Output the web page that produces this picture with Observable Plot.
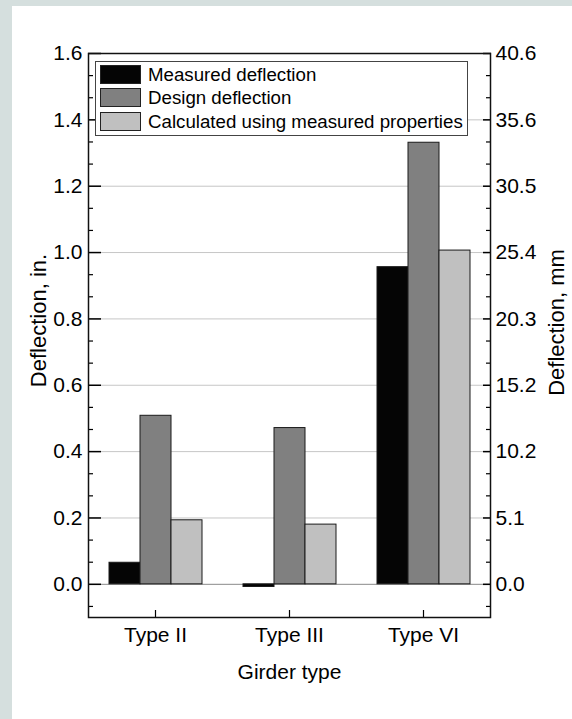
<!DOCTYPE html>
<html><head><meta charset="utf-8">
<script src="https://cdn.jsdelivr.net/npm/d3@7"></script>
<script src="https://cdn.jsdelivr.net/npm/@observablehq/plot@0.6"></script>
<style>
body{margin:0;background:#d5dfde;width:572px;height:719px;overflow:hidden;font-family:"Liberation Sans",Arial,sans-serif;}
#panel{position:absolute;left:12px;top:6px;width:560px;height:713px;background:#fff;}
#legend{position:absolute;left:83px;top:55px;width:371px;height:73px;border:1px solid #444;background:#fff;}
.row{position:absolute;left:4px;height:19px;display:flex;align-items:center;}
.sw{width:39px;height:17px;border:1px solid #222;}
.lab{margin-left:7px;font-size:18.7px;color:#000;white-space:nowrap;}
</style></head>
<body>
<div id="panel"><div id="chart"></div><div id="legend"></div></div>
<script>
const types = ["Type II", "Type III", "Type VI"];
const series = ["Measured deflection", "Design deflection", "Calculated using measured properties"];
const measured = [0.065, -0.008, 0.956];
const design = [0.508, 0.471, 1.331];
const calculated = [0.193, 0.180, 1.006];
const colors = ["#050505", "#808080", "#c0c0c0"];
const inTicks = [0, 0.2, 0.4, 0.6, 0.8, 1.0, 1.2, 1.4, 1.6];
const inLabels = ["0.0", "0.2", "0.4", "0.6", "0.8", "1.0", "1.2", "1.4", "1.6"];
const mmLabels = ["0.0", "5.1", "10.2", "15.2", "20.3", "25.4", "30.5", "35.6", "40.6"];
const gridTicks = [0.2, 0.4, 0.6, 0.8, 1.0, 1.2, 1.4];

const valueSets = [measured, design, calculated];
const data = types.flatMap((t, i) => valueSets.map((arr, j) => ({type: t, series: series[j], value: arr[i]})));
const minorTicks = d3.range(-1, 25).filter(k => k % 3 !== 0).map(k => k / 15);

const font = "'Liberation Sans', Arial, sans-serif";
const chart = Plot.plot({
  width: 560, height: 713,
  marginLeft: 76, marginRight: 82, marginTop: 47, marginBottom: 102,
  style: {fontFamily: font, fontSize: "21px", color: "#000", background: "transparent"},
  fx: {domain: types, padding: 0, label: null},
  x: {domain: series, paddingInner: 0, paddingOuter: 0.64, axis: null},
  y: {domain: [-0.1, 1.6], axis: null},
  color: {domain: series, range: colors},
  marks: [
    Plot.gridY(gridTicks, {stroke: "#c6c6c6", strokeOpacity: 1}),
    Plot.ruleY([0], {stroke: "#8a8a8a"}),
    Plot.barY(data, {fx: "type", x: "series", y: "value", fill: "series", stroke: "#1a1a1a", strokeWidth: 1}),
    Plot.axisY({anchor: "left", ticks: inTicks, tickSize: -13, tickPadding: 19, strokeWidth: 1.5,
      tickFormat: d => inLabels[inTicks.indexOf(d)], label: null}),
    Plot.axisY({anchor: "left", ticks: minorTicks, tickSize: -5, tickFormat: () => "", strokeWidth: 1.2, label: null}),
    Plot.axisY({anchor: "right", ticks: inTicks, tickSize: -8, tickPadding: 13, strokeWidth: 1.5,
      tickFormat: d => mmLabels[inTicks.indexOf(d)], label: null}),
    Plot.axisY({anchor: "right", ticks: minorTicks, tickSize: -5, tickFormat: () => "", strokeWidth: 1.2, label: null}),
    Plot.axisFx({anchor: "bottom", tickSize: -7, tickPadding: 17, strokeWidth: 1.2, label: null}),
    Plot.frame({facet: "super", stroke: "#111", strokeWidth: 1.5}),
    Plot.text(["Deflection, in."], {text: d => d, frameAnchor: "left", textAnchor: "middle", rotate: -90, dx: -50, dy: -15, fontSize: 22, facet: "super"}),
    Plot.text(["Deflection, mm"], {text: d => d, frameAnchor: "right", textAnchor: "middle", rotate: -90, dx: 66, dy: -13, fontSize: 22, facet: "super"}),
    Plot.text(["Girder type"], {text: d => d, frameAnchor: "bottom", dy: 61, facet: "super"})
  ]
});
document.getElementById("chart").appendChild(chart);

const legend = document.getElementById("legend");
const rowTops = [3, 26, 50];
series.forEach((s, j) => {
  const row = document.createElement("div");
  row.className = "row";
  row.style.top = rowTops[j] + "px";
  const sw = document.createElement("div");
  sw.className = "sw";
  sw.style.background = colors[j];
  const lab = document.createElement("span");
  lab.className = "lab";
  lab.textContent = s;
  row.appendChild(sw); row.appendChild(lab);
  legend.appendChild(row);
});
</script>
</body></html>
